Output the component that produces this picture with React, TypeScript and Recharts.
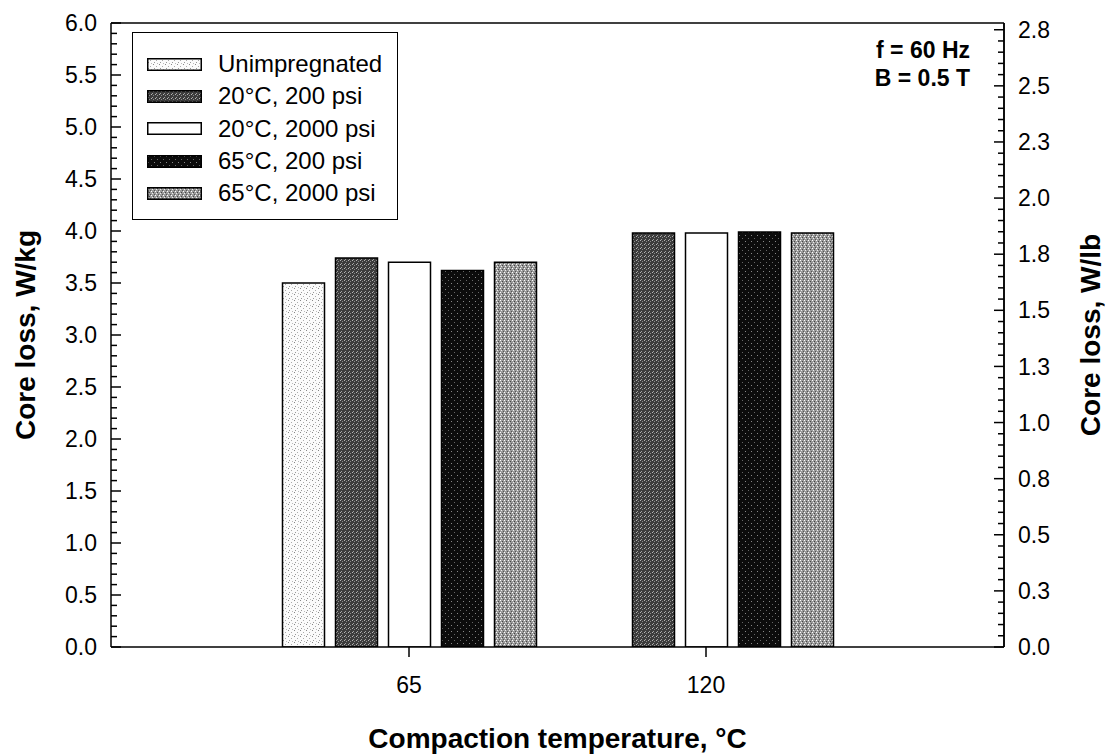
import React from 'react';
import { BarChart, Bar, XAxis, YAxis, Legend, ReferenceLine } from 'recharts';

// compaction temperature groups
const TEMPERATURES = ['65', '120'];

// core loss, W/kg (unimpregnated only measured at 65 °C)
const UNIMPREGNATED = [3.5, null];
const C20_P200 = [3.74, 3.98];
const C20_P2000 = [3.7, 3.98];
const C65_P200 = [3.62, 3.99];
const C65_P2000 = [3.7, 3.98];

const SERIES_NAMES = ['Unimpregnated', '20°C, 200 psi', '20°C, 2000 psi', '65°C, 200 psi', '65°C, 2000 psi'];

const LEFT_LABELS = ['0.0', '0.5', '1.0', '1.5', '2.0', '2.5', '3.0', '3.5', '4.0', '4.5', '5.0', '5.5', '6.0'];
const RIGHT_LABELS = ['0.0', '0.3', '0.5', '0.8', '1.0', '1.3', '1.5', '1.8', '2.0', '2.3', '2.5', '2.8'];

// minor ticks: 0.1 W/kg on the left, 0.05 W/lb on the right
const LEFT_TICKS = Array.from({ length: 61 }, (_, i) => i / 10);
const RIGHT_TICKS = Array.from({ length: 56 }, (_, i) => i / 20);

const data = TEMPERATURES.map((t, i) => ({
  temp: t,
  unimp: UNIMPREGNATED[i],
  c20p200: C20_P200[i],
  c20p2000: C20_P2000[i],
  c65p200: C65_P200[i],
  c65p2000: C65_P2000[i],
}));

const FONT = '"Liberation Sans", Arial, Helvetica, sans-serif';

const LeftTick = (props: any) => {
  const { x, y, payload } = props;
  const step = Math.round(payload.value * 10);
  const major = step % 5 === 0;
  return (
    <g>
      <line x1={x} y1={y} x2={x + (major ? 10 : 6)} y2={y} stroke="#000" strokeWidth={1.5} />
      {major && (
        <text x={x - 14} y={y} dy="0.355em" textAnchor="end" fontSize={23} fontFamily={FONT} fill="#000">
          {LEFT_LABELS[step / 5]}
        </text>
      )}
    </g>
  );
};

const RightTick = (props: any) => {
  const { x, y, payload } = props;
  const step = Math.round(payload.value * 20);
  const major = step % 5 === 0;
  return (
    <g>
      <line x1={x} y1={y} x2={x - (major ? 10 : 6)} y2={y} stroke="#000" strokeWidth={1.5} />
      {major && (
        <text x={x + 14} y={y} dy="0.355em" textAnchor="start" fontSize={23} fontFamily={FONT} fill="#000">
          {RIGHT_LABELS[step / 5]}
        </text>
      )}
    </g>
  );
};

const LegendBox = (props: any) => {
  const items = [...(props.payload || [])].sort(
    (a: any, b: any) => SERIES_NAMES.indexOf(a.value) - SERIES_NAMES.indexOf(b.value)
  );
  return (
    <div
      style={{
        boxSizing: 'border-box',
        width: 266,
        height: 188,
        border: '1.5px solid #000',
        background: '#fff',
        paddingTop: 15,
        fontFamily: FONT,
        fontSize: 24,
        color: '#000',
      }}
    >
      {items.map((e: any) => (
        <div key={e.value} style={{ display: 'flex', alignItems: 'center', height: 32.3 }}>
          <svg width={55} height={13} style={{ marginLeft: 14, marginRight: 16, flex: 'none' }}>
            <rect x={0.75} y={0.75} width={53.5} height={11.5} fill={e.color} stroke="#000" strokeWidth={1.5} />
          </svg>
          <span style={{ whiteSpace: 'nowrap' }}>{e.value}</span>
        </div>
      ))}
    </div>
  );
};

const titleStyle = { fontSize: 28, fontWeight: 'bold', fill: '#000', fontFamily: FONT, textAnchor: 'middle' } as any;

export default function App() {
  return (
    <div style={{ position: 'absolute', left: 0, top: 0, width: 1106, height: 754, background: '#fff' }}>
      <BarChart
        width={1106}
        height={754}
        data={data}
        margin={{ top: 23, right: 0, bottom: 0, left: 0 }}
        barSize={42}
        barGap={11}
      >
        <defs>
          <pattern id="pUnimp" width="6" height="6" patternUnits="userSpaceOnUse">
            <rect width="6" height="6" fill="#fbfbfb" />
            <rect x="0" y="0" width="1" height="1" fill="#888" />
            <rect x="3" y="2" width="1" height="1" fill="#aaa" />
            <rect x="1" y="4" width="1" height="1" fill="#999" />
            <rect x="4" y="5" width="1" height="1" fill="#bbb" />
          </pattern>
          <pattern id="p20_200" width="4" height="4" patternUnits="userSpaceOnUse">
            <rect width="4" height="4" fill="#3c3c3c" />
            <rect x="0" y="0" width="1" height="1" fill="#b5b5b5" />
            <rect x="2" y="1" width="1" height="1" fill="#8a8a8a" />
            <rect x="1" y="3" width="1" height="1" fill="#a0a0a0" />
          </pattern>
          <pattern id="p65_200" width="6" height="6" patternUnits="userSpaceOnUse">
            <rect width="6" height="6" fill="#0c0c0c" />
            <rect x="1" y="1" width="1" height="1" fill="#888" />
            <rect x="4" y="4" width="1" height="1" fill="#666" />
          </pattern>
          <pattern id="p65_2000" width="4" height="4" patternUnits="userSpaceOnUse">
            <rect width="4" height="4" fill="#9a9a9a" />
            <rect x="0" y="0" width="1" height="1" fill="#fff" />
            <rect x="2" y="1" width="1" height="1" fill="#444" />
            <rect x="1" y="2" width="1" height="1" fill="#eee" />
            <rect x="3" y="3" width="1" height="1" fill="#555" />
          </pattern>
        </defs>

        <XAxis
          xAxisId="cat"
          dataKey="temp"
          padding={{ left: 149.5, right: 149.5 }}
          height={107}
          tickSize={10}
          tickMargin={20}
          axisLine={{ stroke: '#000', strokeWidth: 1.5 }}
          tickLine={{ stroke: '#000', strokeWidth: 1.5 }}
          tick={{ fill: '#000', fontSize: 23, fontFamily: FONT }}
          label={{ value: 'Compaction temperature, °C', position: 'insideBottom', offset: 6, style: titleStyle }}
        />
        <XAxis xAxisId="frame" type="number" domain={[0, 2]} allowDataOverflow hide />

        <YAxis
          yAxisId="left"
          width={111}
          domain={[0, 6]}
          allowDataOverflow
          ticks={LEFT_TICKS}
          interval={0}
          tickSize={0}
          tickMargin={0}
          tickLine={false}
          axisLine={{ stroke: '#000', strokeWidth: 1.5 }}
          tick={LeftTick}
          label={{ value: 'Core loss, W/kg', angle: -90, position: 'insideLeft', offset: 25, style: titleStyle }}
        />
        <YAxis
          yAxisId="right"
          orientation="right"
          width={102}
          domain={[0, 2.78]}
          allowDataOverflow
          ticks={RIGHT_TICKS}
          interval={0}
          tickSize={0}
          tickMargin={0}
          tickLine={false}
          axisLine={{ stroke: '#000', strokeWidth: 1.5 }}
          tick={RightTick}
          label={{ value: 'Core loss, W/lb', angle: -90, position: 'insideRight', offset: 16, style: titleStyle }}
        />

        <ReferenceLine xAxisId="cat" yAxisId="left" y={6} stroke="#000" strokeWidth={1.5} />
        <ReferenceLine xAxisId="frame" yAxisId="left" x={1} stroke="#000" strokeWidth={1.5} />

        <Bar xAxisId="cat" yAxisId="left" dataKey="unimp" name={SERIES_NAMES[0]} fill="url(#pUnimp)" stroke="#000" strokeWidth={1.5} isAnimationActive={false} />
        <Bar xAxisId="cat" yAxisId="left" dataKey="c20p200" name={SERIES_NAMES[1]} fill="url(#p20_200)" stroke="#000" strokeWidth={1.5} isAnimationActive={false} />
        <Bar xAxisId="cat" yAxisId="left" dataKey="c20p2000" name={SERIES_NAMES[2]} fill="#fff" stroke="#000" strokeWidth={1.5} isAnimationActive={false} />
        <Bar xAxisId="cat" yAxisId="left" dataKey="c65p200" name={SERIES_NAMES[3]} fill="url(#p65_200)" stroke="#000" strokeWidth={1.5} isAnimationActive={false} />
        <Bar xAxisId="cat" yAxisId="left" dataKey="c65p2000" name={SERIES_NAMES[4]} fill="url(#p65_2000)" stroke="#000" strokeWidth={1.5} isAnimationActive={false} />

        <Legend
          layout="horizontal"
          verticalAlign="middle"
          align="center"
          content={LegendBox}
          wrapperStyle={{ position: 'absolute', left: 132, top: 32, width: 266, height: 188 }}
        />
      </BarChart>

      <div
        style={{
          position: 'absolute',
          right: 136,
          top: 36,
          textAlign: 'right',
          fontFamily: FONT,
          fontWeight: 'bold',
          fontSize: 23,
          lineHeight: '28px',
          color: '#000',
          pointerEvents: 'none',
        }}
      >
        <div>f = 60 Hz</div>
        <div>B = 0.5 T</div>
      </div>
    </div>
  );
}
